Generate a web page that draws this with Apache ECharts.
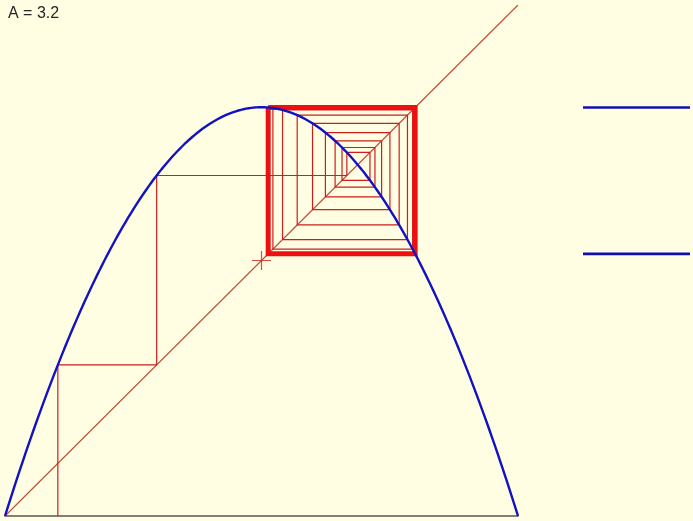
<!DOCTYPE html>
<html>
<head>
<meta charset="utf-8">
<title>Logistic map cobweb</title>
<script src="https://cdn.jsdelivr.net/npm/echarts@6/dist/echarts.min.js"></script>
<style>
  html, body { margin: 0; padding: 0; background: #fffde2; }
  #chart { width: 693px; height: 521px; }
</style>
</head>
<body>
<div id="chart"></div>
<script>
// Logistic map f(x) = A·x·(1−x)
const A = 3.2;
const X_START = 0.103;        // starting value of the orbit
const TRANSIENT_STEPS = 40;   // iterations drawn as thin cobweb
const CURVE_SAMPLES = 200;
const CROSS_POINT = [0.5, 0.5];
const TITLE_TEXT = 'A = ' + A;

const f = x => A * x * (1 - x);

// parabola
const curve = [];
for (let i = 0; i <= CURVE_SAMPLES; i++) {
  const x = i / CURVE_SAMPLES;
  curve.push([x, f(x)]);
}

// cobweb path: up to the curve, across to the diagonal, repeat
const cobweb = [[X_START, 0]];
let x = X_START;
for (let i = 0; i < TRANSIENT_STEPS; i++) {
  const y = f(x);
  cobweb.push([x, y]);
  cobweb.push([y, y]);
  x = y;
}

// settled orbit (period 2) drawn as a bold square
const p = x, q = f(x);
const lo = Math.min(p, q), hi = Math.max(p, q);
const attractor = [[lo, hi], [hi, hi], [hi, lo], [lo, lo], [lo, hi]];
const attractorValues = [hi, lo];

const chart = echarts.init(document.getElementById('chart'), null, { renderer: 'canvas' });

const hidden = { show: false };
const option = {
  backgroundColor: '#fffde2',
  animation: false,
  grid: [
    { left: 5, right: 175, top: 5, bottom: 5 },
    { left: 583, width: 107, top: 5, bottom: 5 }
  ],
  xAxis: [
    { gridIndex: 0, type: 'value', min: 0, max: 1,
      axisLine: { show: true, onZero: false, lineStyle: { color: '#555555', width: 1.6 } },
      axisTick: hidden, axisLabel: hidden, splitLine: hidden },
    { gridIndex: 1, type: 'value', min: 0, max: 1,
      axisLine: hidden, axisTick: hidden, axisLabel: hidden, splitLine: hidden }
  ],
  yAxis: [
    { gridIndex: 0, type: 'value', min: 0, max: 1,
      axisLine: hidden, axisTick: hidden, axisLabel: hidden, splitLine: hidden },
    { gridIndex: 1, type: 'value', min: 0, max: 1,
      axisLine: hidden, axisTick: hidden, axisLabel: hidden, splitLine: hidden }
  ],
  graphic: [{
    type: 'text', left: 8, top: 6,
    style: { text: TITLE_TEXT, font: '16px "Liberation Sans", Arial, sans-serif', fill: '#262626' }
  }],
  series: [
    { type: 'line', name: 'diagonal', data: [[0, 0], [1, 1]], showSymbol: false, silent: true,
      lineStyle: { color: '#c4503f', width: 1.2 }, z: 1 },
    { type: 'line', name: 'cobweb', data: cobweb, showSymbol: false, silent: true,
      lineStyle: { color: '#cc1e1e', width: 1.2 }, z: 2 },
    { type: 'line', name: 'cycle', data: attractor, showSymbol: false, silent: true,
      lineStyle: { color: '#ee1010', width: 5, join: 'miter' }, z: 3 },
    { type: 'line', name: 'map', data: curve, showSymbol: false, silent: true, smooth: false,
      lineStyle: { color: '#1212c4', width: 2.4 }, z: 4 },
    { type: 'scatter', name: 'cross', data: [CROSS_POINT], silent: true,
      symbol: 'path://M0,9H18M9,0V18', symbolSize: 19,
      itemStyle: { color: 'none', borderColor: '#cc1e1e', borderWidth: 1.2 }, z: 5 }
  ].concat(attractorValues.map(v => ({
    type: 'line', xAxisIndex: 1, yAxisIndex: 1, data: [[0, v], [1, v]],
    showSymbol: false, silent: true,
    lineStyle: { color: '#1010b0', width: 2.6 }
  })))
};

chart.setOption(option);
</script>
</body>
</html>
